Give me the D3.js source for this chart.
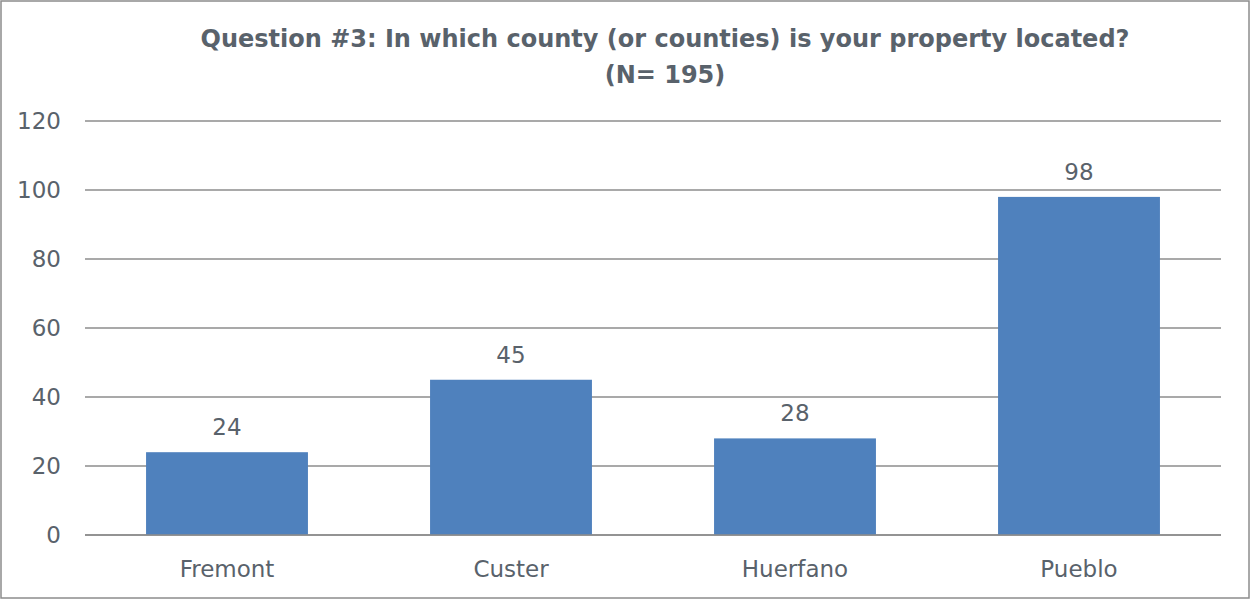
<!doctype html>
<html>
<head>
<meta charset="utf-8">
<script src="https://d3js.org/d3.v7.min.js"></script>
<style>
  body { margin: 0; background: #fff; }
  svg { display: block; font-family: "DejaVu Sans", sans-serif; }
</style>
</head>
<body>
<div id="chart"></div>
<script>
// data
var counties = ["Fremont", "Custer", "Huerfano", "Pueblo"];
var counts = [24, 45, 28, 98];
var yTicks = [0, 20, 40, 60, 80, 100, 120];
var titleLines = ["Question #3: In which county (or counties) is your property located?", "(N= 195)"];

var width = 1250, height = 600;
var margin = {top: 121, right: 29, bottom: 65, left: 85};
var textColor = "#59626b";

var svg = d3.select("#chart").append("svg")
    .attr("width", width)
    .attr("height", height);

// outer border
svg.append("rect")
    .attr("x", 1).attr("y", 1)
    .attr("width", width - 2).attr("height", height - 3)
    .attr("fill", "#fff")
    .attr("stroke", "#8c8c8c")
    .attr("stroke-width", 1.5);

var x = d3.scaleBand()
    .domain(counties)
    .range([margin.left, width - margin.right])
    .padding(0);

var y = d3.scaleLinear()
    .domain([0, 120])
    .range([height - margin.bottom, margin.top]);

// gridlines
svg.append("g")
  .selectAll("line")
  .data(yTicks)
  .enter().append("line")
    .attr("x1", margin.left)
    .attr("x2", width - margin.right)
    .attr("y1", function(d) { return y(d); })
    .attr("y2", function(d) { return y(d); })
    .attr("stroke", "#8c8c8c")
    .attr("stroke-width", 1.5);

// y tick labels
svg.append("g")
  .selectAll("text")
  .data(yTicks)
  .enter().append("text")
    .attr("x", 61)
    .attr("y", function(d) { return y(d); })
    .attr("dy", "0.36em")
    .attr("text-anchor", "end")
    .attr("fill", textColor)
    .style("font-size", "23px")
    .text(function(d) { return d; });

// bars
var barW = x.bandwidth() * 0.57;
var rows = counties.map(function(c, i) { return {name: c, value: counts[i]}; });

svg.append("g")
  .selectAll("rect")
  .data(rows)
  .enter().append("rect")
    .attr("x", function(d) { return x(d.name) + (x.bandwidth() - barW) / 2; })
    .attr("y", function(d) { return y(d.value); })
    .attr("width", barW)
    .attr("height", function(d) { return y(0) - y(d.value); })
    .attr("fill", "#4f81bd");

// redraw baseline on top of bars
svg.append("line")
    .attr("x1", margin.left).attr("x2", width - margin.right)
    .attr("y1", y(0)).attr("y2", y(0))
    .attr("stroke", "#8c8c8c")
    .attr("stroke-width", 1.5);

// value labels
svg.append("g")
  .selectAll("text")
  .data(rows)
  .enter().append("text")
    .attr("x", function(d) { return x(d.name) + x.bandwidth() / 2; })
    .attr("y", function(d) { return y(d.value) - 17; })
    .attr("text-anchor", "middle")
    .attr("fill", textColor)
    .style("font-size", "23px")
    .text(function(d) { return d.value; });

// category labels
svg.append("g")
  .selectAll("text")
  .data(counties)
  .enter().append("text")
    .attr("x", function(d) { return x(d) + x.bandwidth() / 2; })
    .attr("y", 577)
    .attr("text-anchor", "middle")
    .attr("fill", textColor)
    .style("font-size", "23px")
    .text(function(d) { return d; });

// title
svg.append("g")
  .selectAll("text")
  .data(titleLines)
  .enter().append("text")
    .attr("x", 665)
    .attr("y", function(d, i) { return 47 + i * 36; })
    .attr("text-anchor", "middle")
    .attr("fill", textColor)
    .style("font-size", "24px")
    .style("font-weight", "bold")
    .text(function(d) { return d; });
</script>
</body>
</html>
